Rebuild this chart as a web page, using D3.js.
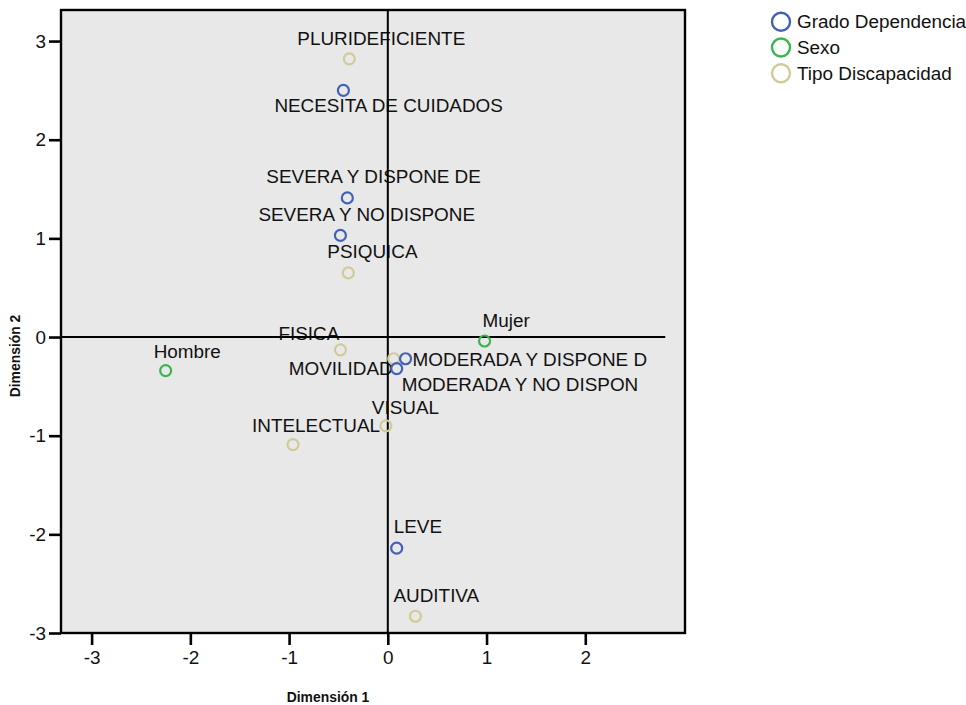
<!DOCTYPE html>
<html>
<head>
<meta charset="utf-8">
<script src="https://cdn.jsdelivr.net/npm/d3@7"></script>
<style>
  html, body { margin: 0; padding: 0; background: #ffffff; }
  svg { display: block; font-family: "Liberation Sans", Arial, Helvetica, sans-serif; }
</style>
</head>
<body>
<svg id="chart" width="966" height="705"></svg>
<script>
// Category points of the joint plot (Dimensión 1 / Dimensión 2)
const categories = [
  "PLURIDEFICIENTE", "NECESITA DE CUIDADOS", "SEVERA Y DISPONE DE", "SEVERA Y NO DISPONE",
  "PSIQUICA", "Hombre", "FISICA", "MOVILIDAD", "MODERADA Y DISPONE D",
  "MODERADA Y NO DISPON", "Mujer", "VISUAL", "INTELECTUAL", "LEVE", "AUDITIVA"
];
const variables = [
  "Tipo Discapacidad", "Grado Dependencia", "Grado Dependencia", "Grado Dependencia",
  "Tipo Discapacidad", "Sexo", "Tipo Discapacidad", "Tipo Discapacidad", "Grado Dependencia",
  "Grado Dependencia", "Sexo", "Tipo Discapacidad", "Tipo Discapacidad", "Grado Dependencia", "Tipo Discapacidad"
];
const dim1 = [-0.39, -0.45, -0.41, -0.48, -0.40, -2.25, -0.48, 0.06, 0.18, 0.09, 0.98, -0.02, -0.96, 0.09, 0.28];
const dim2 = [2.82, 2.50, 1.41, 1.03, 0.65, -0.34, -0.13, -0.22, -0.22, -0.32, -0.04, -0.90, -1.09, -2.14, -2.83];

const legendNames = ["Grado Dependencia", "Sexo", "Tipo Discapacidad"];
const xTicks = [-3, -2, -1, 0, 1, 2];
const yTicks = [-3, -2, -1, 0, 1, 2, 3];

// Label placement relative to each point (pixels, text starts at dx)
const labelDx = [-52, -69, -81, -82, -21, -12, -62, -105, 7, 5, -2, -14, -41, -3, -22];
const labelDy = [-14, 22, -15, -14, -15, -13, -10, 16, 7, 22, -14, -12, -13, -15, -14];

const colors = d3.scaleOrdinal()
  .domain(legendNames)
  .range(["#4361b6", "#3cb44f", "#d0cb97"]);

const svg = d3.select("#chart");
const plotLeft = 61, plotRight = 685, plotTop = 10, plotBottom = 633;
const fontSize = 18.9;

const x = d3.scaleLinear().domain([-3.31, 3.01]).range([plotLeft, plotRight]);
const y = d3.scaleLinear().domain([-3.0, 3.315]).range([plotBottom, plotTop]);

// plot background
svg.append("rect")
  .attr("x", plotLeft).attr("y", plotTop)
  .attr("width", plotRight - plotLeft).attr("height", plotBottom - plotTop)
  .attr("fill", "#e8e8e8");

const pts = categories.map((c, i) => ({ name: c, v: variables[i], d1: dim1[i], d2: dim2[i], dx: labelDx[i], dy: labelDy[i] }));

// labels
svg.append("g").selectAll("text").data(pts).join("text")
  .attr("x", d => x(d.d1) + d.dx)
  .attr("y", d => y(d.d2) + d.dy)
  .attr("font-size", fontSize)
  .attr("fill", "#111")
  .text(d => d.name);

// reference lines through the origin
const hLineEnd = 2.81;
svg.append("line")
  .attr("x1", plotLeft).attr("x2", x(hLineEnd))
  .attr("y1", y(0)).attr("y2", y(0))
  .attr("stroke", "#000").attr("stroke-width", 2);
svg.append("line")
  .attr("x1", x(0)).attr("x2", x(0))
  .attr("y1", plotTop).attr("y2", plotBottom)
  .attr("stroke", "#000").attr("stroke-width", 2);

// points
svg.append("g").selectAll("circle").data(pts).join("circle")
  .attr("cx", d => x(d.d1))
  .attr("cy", d => y(d.d2))
  .attr("r", 5.5)
  .attr("fill", "none")
  .attr("stroke", d => colors(d.v))
  .attr("stroke-width", 2.2);

// frame
svg.append("rect")
  .attr("x", plotLeft).attr("y", plotTop)
  .attr("width", plotRight - plotLeft).attr("height", plotBottom - plotTop)
  .attr("fill", "none").attr("stroke", "#000").attr("stroke-width", 2.4);

// axes
const xAxis = svg.append("g")
  .attr("transform", `translate(0,${plotBottom})`)
  .call(d3.axisBottom(x).tickValues(xTicks).tickFormat(d3.format("d")).tickSize(12).tickSizeOuter(0).tickPadding(6));
const yAxis = svg.append("g")
  .attr("transform", `translate(${plotLeft},0)`)
  .call(d3.axisLeft(y).tickValues(yTicks).tickFormat(d3.format("d")).tickSize(12).tickSizeOuter(0).tickPadding(3));
[xAxis, yAxis].forEach(a => {
  a.select(".domain").remove();
  a.selectAll(".tick line").attr("stroke", "#000").attr("stroke-width", 2.6);
  a.selectAll(".tick text").attr("font-size", fontSize).attr("fill", "#111")
    .attr("font-family", "'Liberation Sans', Arial, sans-serif")
    .text(d => d < 0 ? "-" + Math.abs(d) : String(d));
});

// axis titles
svg.append("text")
  .attr("x", 328).attr("y", 702)
  .attr("text-anchor", "middle")
  .attr("font-size", 13.9).attr("font-weight", "bold").attr("fill", "#111")
  .text("Dimensión 1");
svg.append("text")
  .attr("transform", "translate(20,356) rotate(-90)")
  .attr("text-anchor", "middle")
  .attr("font-size", 13.9).attr("font-weight", "bold").attr("fill", "#111")
  .text("Dimensión 2");

// legend
const legend = svg.append("g").selectAll("g").data(legendNames).join("g")
  .attr("transform", (d, i) => `translate(781,${21.7 + i * 25.8})`);
legend.append("circle")
  .attr("r", 9)
  .attr("fill", "none")
  .attr("stroke", d => colors(d))
  .attr("stroke-width", 2.4);
legend.append("text")
  .attr("x", 16).attr("y", 6.5)
  .attr("font-size", fontSize).attr("fill", "#111")
  .text(d => d);
</script>
</body>
</html>
